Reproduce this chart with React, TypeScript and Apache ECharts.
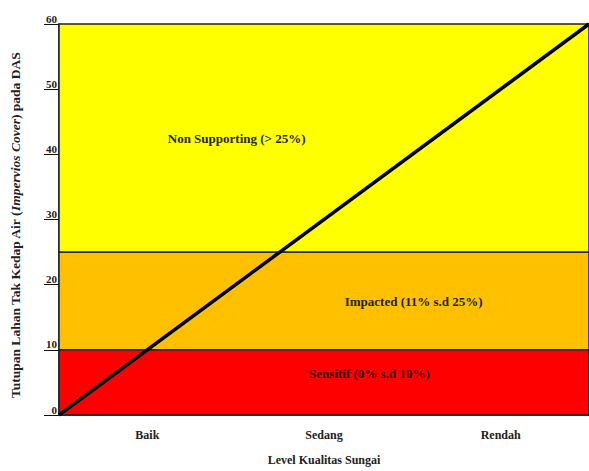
import React, { useEffect, useRef } from "react";
import * as echarts from "echarts";

const categories = ["Baik", "Sedang", "Rendah"];
const yTicks = { min: 0, max: 60, interval: 10 };
const lineData: [number, number][] = [
  [0, 0],
  [3, 60],
];
const bands = [
  { name: "Sensitif (0% s.d 10%)", from: 0, to: 10, color: "#FF0000", textColor: "#3a0000", pos: ["47.2%", "37%"] },
  { name: "Impacted (11% s.d 25%)", from: 10, to: 25, color: "#FFC000", textColor: "#222", pos: ["53.9%", "51%"] },
  { name: "Non Supporting (> 25%)", from: 25, to: 60, color: "#FFFF00", textColor: "#222", pos: ["20.6%", "50%"] },
];

const FONT = "Liberation Serif";

export default function App() {
  const ref = useRef<HTMLDivElement>(null);
  useEffect(() => {
    if (!ref.current) return;
    const chart = echarts.init(ref.current, undefined, { renderer: "svg" });
    chart.setOption({
      animation: false,
      backgroundColor: "#fff",
      grid: { left: 54, right: 0, top: 24, bottom: 49, show: false },
      xAxis: [
        {
          type: "category",
          data: categories,
          boundaryGap: true,
          axisLine: { show: true, lineStyle: { color: "#111", width: 1.5 } },
          axisTick: { show: false },
          axisLabel: { fontFamily: FONT, fontWeight: "bold", fontSize: 12, color: "#222", margin: 14 },
          name: "Level Kualitas Sungai",
          nameLocation: "middle",
          nameGap: 39,
          nameTextStyle: { fontFamily: FONT, fontWeight: "bold", fontSize: 12, color: "#222" },
        },
        {
          type: "value",
          min: 0,
          max: 3,
          show: false,
        },
      ],
      yAxis: {
        type: "value",
        min: yTicks.min,
        max: yTicks.max,
        interval: yTicks.interval,
        splitLine: { show: false },
        axisLine: { show: true, lineStyle: { color: "#111", width: 1.5 } },
        axisTick: { show: true, length: 15, lineStyle: { color: "#111", width: 1 } },
        axisLabel: {
          fontFamily: FONT,
          fontWeight: "bold",
          fontSize: 11,
          color: "#222",
          margin: 2,
          verticalAlign: "bottom",
          lineHeight: 11,
        },
        name: "{a|Tutupan Lahan Tak Kedap Air (}{b|Impervios Cover}{a|) pada DAS}",
        nameLocation: "middle",
        nameGap: 37,
        nameRotate: 90,
        nameTextStyle: {
          padding: [0, 12, 0, 0],
          rich: {
            a: { fontFamily: FONT, fontWeight: "bold", fontSize: 13.5, color: "#222" },
            b: { fontFamily: FONT, fontWeight: "bold", fontStyle: "italic", fontSize: 13.5, color: "#222" },
          },
        },
      },
      series: [
        {
          type: "line",
          xAxisIndex: 1,
          data: lineData,
          symbol: "none",
          lineStyle: { color: "#000", width: 3.5 },
          z: 5,
          markArea: {
            silent: true,
            data: bands.map((b) => [
              {
                yAxis: b.from,
                itemStyle: { color: b.color, borderColor: "#222", borderWidth: 1.5, opacity: 1 },
                label: {
                  show: true,
                  position: b.pos,
                  align: "left",
                  verticalAlign: "middle",
                  formatter: b.name,
                  fontFamily: FONT,
                  fontWeight: "bold",
                  fontSize: 13,
                  color: b.textColor,
                },
              },
              { yAxis: b.to },
            ]),
          },
        },
      ],
    });
    return () => chart.dispose();
  }, []);
  return <div ref={ref} style={{ position: "fixed", left: 0, top: 0, width: 589, height: 471 }} />;
}
